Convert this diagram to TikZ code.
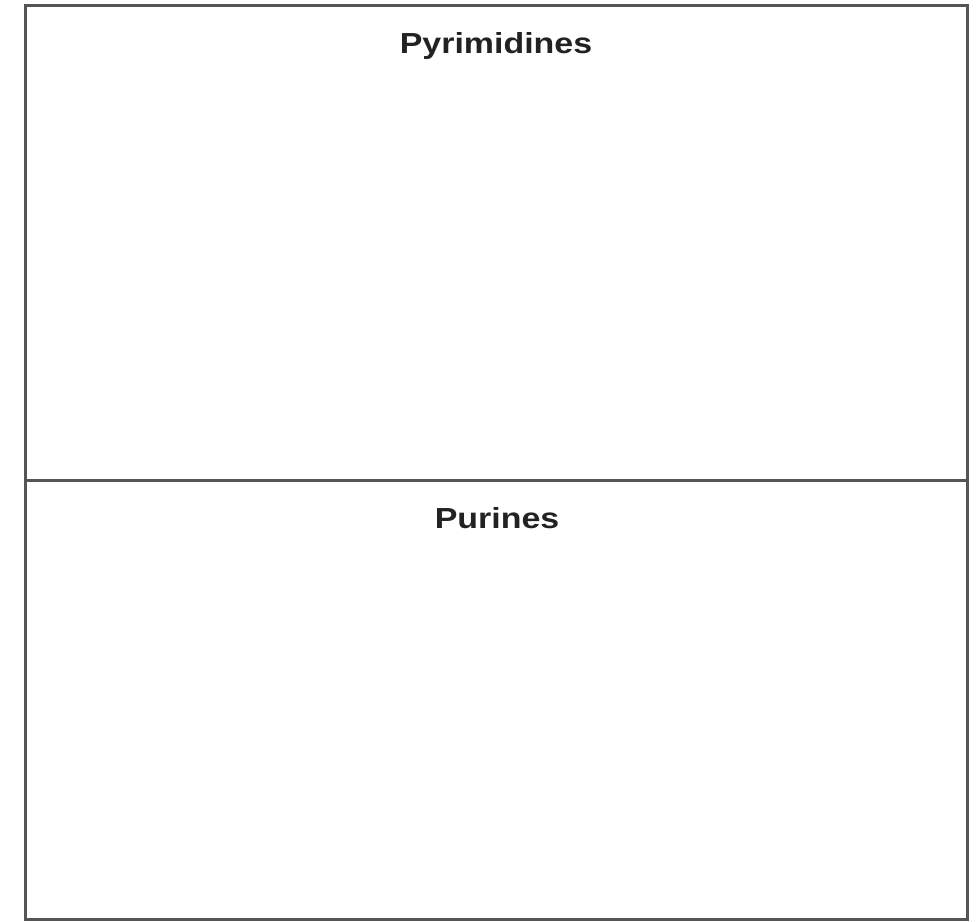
\documentclass[tikz,border=0pt]{standalone}
\usepackage{fontspec}
\setmainfont{Liberation Sans}
\definecolor{frame}{HTML}{555555}
\definecolor{txt}{HTML}{222222}
\begin{document}
\begin{tikzpicture}[x=1pt,y=-1pt,
  box/.style={draw=frame,line width=3pt},
  title/.style={anchor=base,inner sep=0pt,text=txt,font=\fontsize{29}{32}\selectfont\bfseries}]
\useasboundingbox (0,0) rectangle (979,921);
\fill[white] (0,0) rectangle (979,921);
\draw[box] (25,5.5) rectangle (967,919.5);
\coordinate (dl) at (25,480);
\coordinate (dr) at (967,480);
\draw[box] (dl) -- (dr);
\node[title] (pyr) at (496,53) {\scalebox{1.17}[1]{Pyrimidines}};
\node[title] (pur) at (497,528) {\scalebox{1.17}[1]{Purines}};
\end{tikzpicture}
\end{document}
